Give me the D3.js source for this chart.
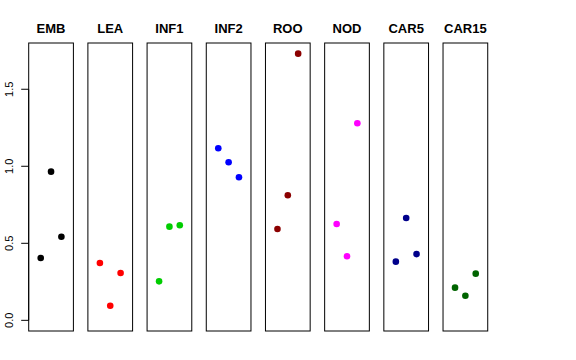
<!DOCTYPE html>
<html><head><meta charset="utf-8">
<script src="https://cdn.jsdelivr.net/npm/d3@7"></script>
<style>body{margin:0;background:#fff}</style>
</head><body>
<script>
const categories = ["EMB","LEA","INF1","INF2","ROO","NOD","CAR5","CAR15"];
const colors = ["#000000","#FF0000","#00CD00","#0000FF","#8B0000","#FF00FF","#00008B","#006400"];
const values = [
  [0.405, 0.965, 0.543],
  [0.372, 0.095, 0.307],
  [0.253, 0.608, 0.617],
  [1.117, 1.026, 0.929],
  [0.593, 0.812, 1.731],
  [0.625, 0.416, 1.279],
  [0.381, 0.664, 0.430],
  [0.212, 0.160, 0.303]
];
const yTicks = [0, 0.5, 1.0, 1.5];
const yTickLabels = ["0.0","0.5","1.0","1.5"];

(function () {
const W = 576, H = 360;
const svg = d3.select("body").append("svg").attr("width", W).attr("height", H);
const pTop = 43, pBottom = 331;
const maxV = d3.max(values.flat());
const ext = 0.04 * maxV;
const y = d3.scaleLinear().domain([-ext, maxV + ext]).range([pBottom, pTop]);
const panelX = d3.scaleLinear().domain([0, 7]).range([28.7, 28.7 + 7 * 59.19]);
const pw = 44.7;

categories.forEach((c, i) => {
  const x0 = panelX(i);
  const x = d3.scaleLinear().domain([-0.16, 4.16]).range([x0, x0 + pw]);
  const g = svg.append("g");
  g.append("rect").attr("x", x0).attr("y", pTop).attr("width", pw).attr("height", pBottom - pTop)
    .attr("fill", "none").attr("stroke", "#000").attr("stroke-width", 1);
  g.append("text").attr("x", x0 + pw / 2).attr("y", 33.3).attr("text-anchor", "middle")
    .attr("font-family", "Liberation Sans, Arial, sans-serif").attr("font-weight", "bold")
    .attr("font-size", 13).text(c);
  g.selectAll("circle").data(values[i]).join("circle")
    .attr("cx", (d, j) => x(j + 1)).attr("cy", d => y(d)).attr("r", 3.3)
    .attr("fill", colors[i]);
});

// y axis
const ax = svg.append("g").attr("transform", `translate(${panelX(0)},0)`);
ax.append("line").attr("x1", 0).attr("x2", 0).attr("y1", y(0)).attr("y2", y(1.5)).attr("stroke", "#000");
yTicks.forEach((t, k) => {
  ax.append("line").attr("x1", -7.5).attr("x2", 0).attr("y1", y(t)).attr("y2", y(t)).attr("stroke", "#000");
  ax.append("text").attr("transform", `translate(${13.3 - panelX(0)},${y(t)}) rotate(-90)`)
    .attr("text-anchor", "middle").attr("font-family", "Liberation Sans, Arial, sans-serif")
    .attr("font-size", 11).text(yTickLabels[k]);
});
})();
</script>
</body></html>
